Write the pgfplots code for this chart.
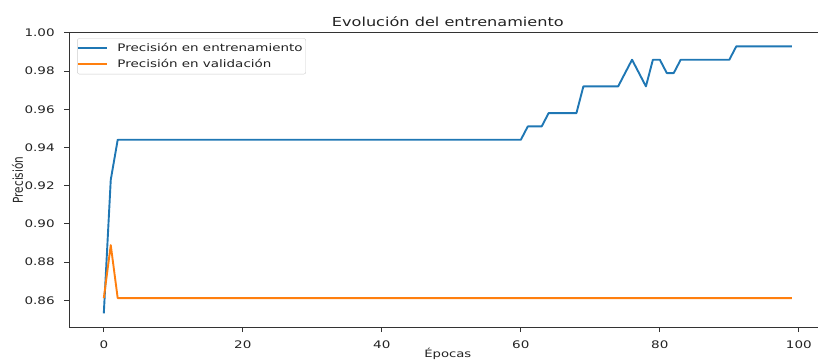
\documentclass[border=0pt]{standalone}
\usepackage{fontspec}
\setmainfont[FakeStretch=1.3]{DejaVu Sans}
\newfontfamily\ylabfont[FakeStretch=0.77]{DejaVu Sans}
\usepackage{pgfplots}
\pgfplotsset{compat=1.18}
\definecolor{mplblue}{HTML}{1F77B4}
\definecolor{mplorange}{HTML}{FF7F0E}
\definecolor{txt}{HTML}{222222}
\begin{document}
\begin{tikzpicture}
\begin{axis}[
  name=ax,
  scale only axis,
  width=756.9bp, height=294bp,
  xmin=-4.95, xmax=103.95, ymin=0.846, ymax=1.0,
  tick align=outside, xtick pos=bottom, ytick pos=left,
  major tick length=5bp,
  every tick/.style={black!80, line width=1bp},
  axis line style={black!80, line width=1bp},
  xtick={0,20,40,60,80,100},
  ytick={0.86,0.88,0.90,0.92,0.94,0.96,0.98,1.00},
  /pgf/number format/assume math mode=true,
  ticklabel style={font=\fontsize{10.4bp}{12.5bp}\selectfont, inner sep=0pt, text=txt},
  yticklabel style={/pgf/number format/.cd, fixed, fixed zerofill, precision=2, /tikz/.cd, anchor=east, xshift=-9.5bp},
  xticklabel style={anchor=north, yshift=-8.5bp},
  xlabel={Épocas},
  every axis x label/.style={at={(axis description cs:0.5,0)}, anchor=base, yshift=-30.4bp, font=\fontsize{10.15bp}{12bp}\selectfont, text=txt},
  ylabel={Precisión},
  every axis y label/.style={at={([xshift=-46.5bp]axis description cs:0,0.5)}, rotate=90, anchor=base, font=\ylabfont\fontsize{13.6bp}{15bp}\selectfont, text=txt},
  legend style={at={([xshift=7.8bp,yshift=-5.3bp]axis description cs:0,1)}, anchor=north west,
    draw=black!20, rounded corners=2bp, fill=white, fill opacity=0.8, text opacity=1,
    inner xsep=0bp, inner ysep=2bp, column sep=6.5bp, font=\fontsize{10.36bp}{12.5bp}\selectfont,
    nodes={inner xsep=3.2bp, inner ysep=2.3bp, text height=8.6bp, text depth=2.6bp, text=txt}},
  legend cell align=left,
  legend image code/.code={\draw[#1] (0bp,0bp) -- (28.5bp,0bp);},
]
\addplot[mplblue, line width=1.9bp, line join=round, mark=none] table {
x y
0 0.85315
1 0.92308
2 0.94406
3 0.94406
4 0.94406
5 0.94406
6 0.94406
7 0.94406
8 0.94406
9 0.94406
10 0.94406
11 0.94406
12 0.94406
13 0.94406
14 0.94406
15 0.94406
16 0.94406
17 0.94406
18 0.94406
19 0.94406
20 0.94406
21 0.94406
22 0.94406
23 0.94406
24 0.94406
25 0.94406
26 0.94406
27 0.94406
28 0.94406
29 0.94406
30 0.94406
31 0.94406
32 0.94406
33 0.94406
34 0.94406
35 0.94406
36 0.94406
37 0.94406
38 0.94406
39 0.94406
40 0.94406
41 0.94406
42 0.94406
43 0.94406
44 0.94406
45 0.94406
46 0.94406
47 0.94406
48 0.94406
49 0.94406
50 0.94406
51 0.94406
52 0.94406
53 0.94406
54 0.94406
55 0.94406
56 0.94406
57 0.94406
58 0.94406
59 0.94406
60 0.94406
61 0.95105
62 0.95105
63 0.95105
64 0.95804
65 0.95804
66 0.95804
67 0.95804
68 0.95804
69 0.97203
70 0.97203
71 0.97203
72 0.97203
73 0.97203
74 0.97203
75 0.97902
76 0.98601
77 0.97902
78 0.97203
79 0.98601
80 0.98601
81 0.97902
82 0.97902
83 0.98601
84 0.98601
85 0.98601
86 0.98601
87 0.98601
88 0.98601
89 0.98601
90 0.98601
91 0.99301
92 0.99301
93 0.99301
94 0.99301
95 0.99301
96 0.99301
97 0.99301
98 0.99301
99 0.99301
};
\addlegendentry{Precisión en entrenamiento\hspace{4bp}}
\addplot[mplorange, line width=1.9bp, line join=round, mark=none] table {
x y
0 0.86111
1 0.88889
2 0.86111
3 0.86111
4 0.86111
5 0.86111
6 0.86111
7 0.86111
8 0.86111
9 0.86111
10 0.86111
11 0.86111
12 0.86111
13 0.86111
14 0.86111
15 0.86111
16 0.86111
17 0.86111
18 0.86111
19 0.86111
20 0.86111
21 0.86111
22 0.86111
23 0.86111
24 0.86111
25 0.86111
26 0.86111
27 0.86111
28 0.86111
29 0.86111
30 0.86111
31 0.86111
32 0.86111
33 0.86111
34 0.86111
35 0.86111
36 0.86111
37 0.86111
38 0.86111
39 0.86111
40 0.86111
41 0.86111
42 0.86111
43 0.86111
44 0.86111
45 0.86111
46 0.86111
47 0.86111
48 0.86111
49 0.86111
50 0.86111
51 0.86111
52 0.86111
53 0.86111
54 0.86111
55 0.86111
56 0.86111
57 0.86111
58 0.86111
59 0.86111
60 0.86111
61 0.86111
62 0.86111
63 0.86111
64 0.86111
65 0.86111
66 0.86111
67 0.86111
68 0.86111
69 0.86111
70 0.86111
71 0.86111
72 0.86111
73 0.86111
74 0.86111
75 0.86111
76 0.86111
77 0.86111
78 0.86111
79 0.86111
80 0.86111
81 0.86111
82 0.86111
83 0.86111
84 0.86111
85 0.86111
86 0.86111
87 0.86111
88 0.86111
89 0.86111
90 0.86111
91 0.86111
92 0.86111
93 0.86111
94 0.86111
95 0.86111
96 0.86111
97 0.86111
98 0.86111
99 0.86111
};
\addlegendentry{Precisión en validación}
\end{axis}
\node[anchor=base, font=\fontsize{12.4bp}{15bp}\selectfont, text=txt] at ([yshift=6.5bp]ax.north) {Evolución del entrenamiento};
\pgfresetboundingbox
\path ([xshift=-69.4bp,yshift=-33bp]ax.south west) rectangle ([xshift=-8.3bp,yshift=33bp]ax.north east);
\end{tikzpicture}
\end{document}
